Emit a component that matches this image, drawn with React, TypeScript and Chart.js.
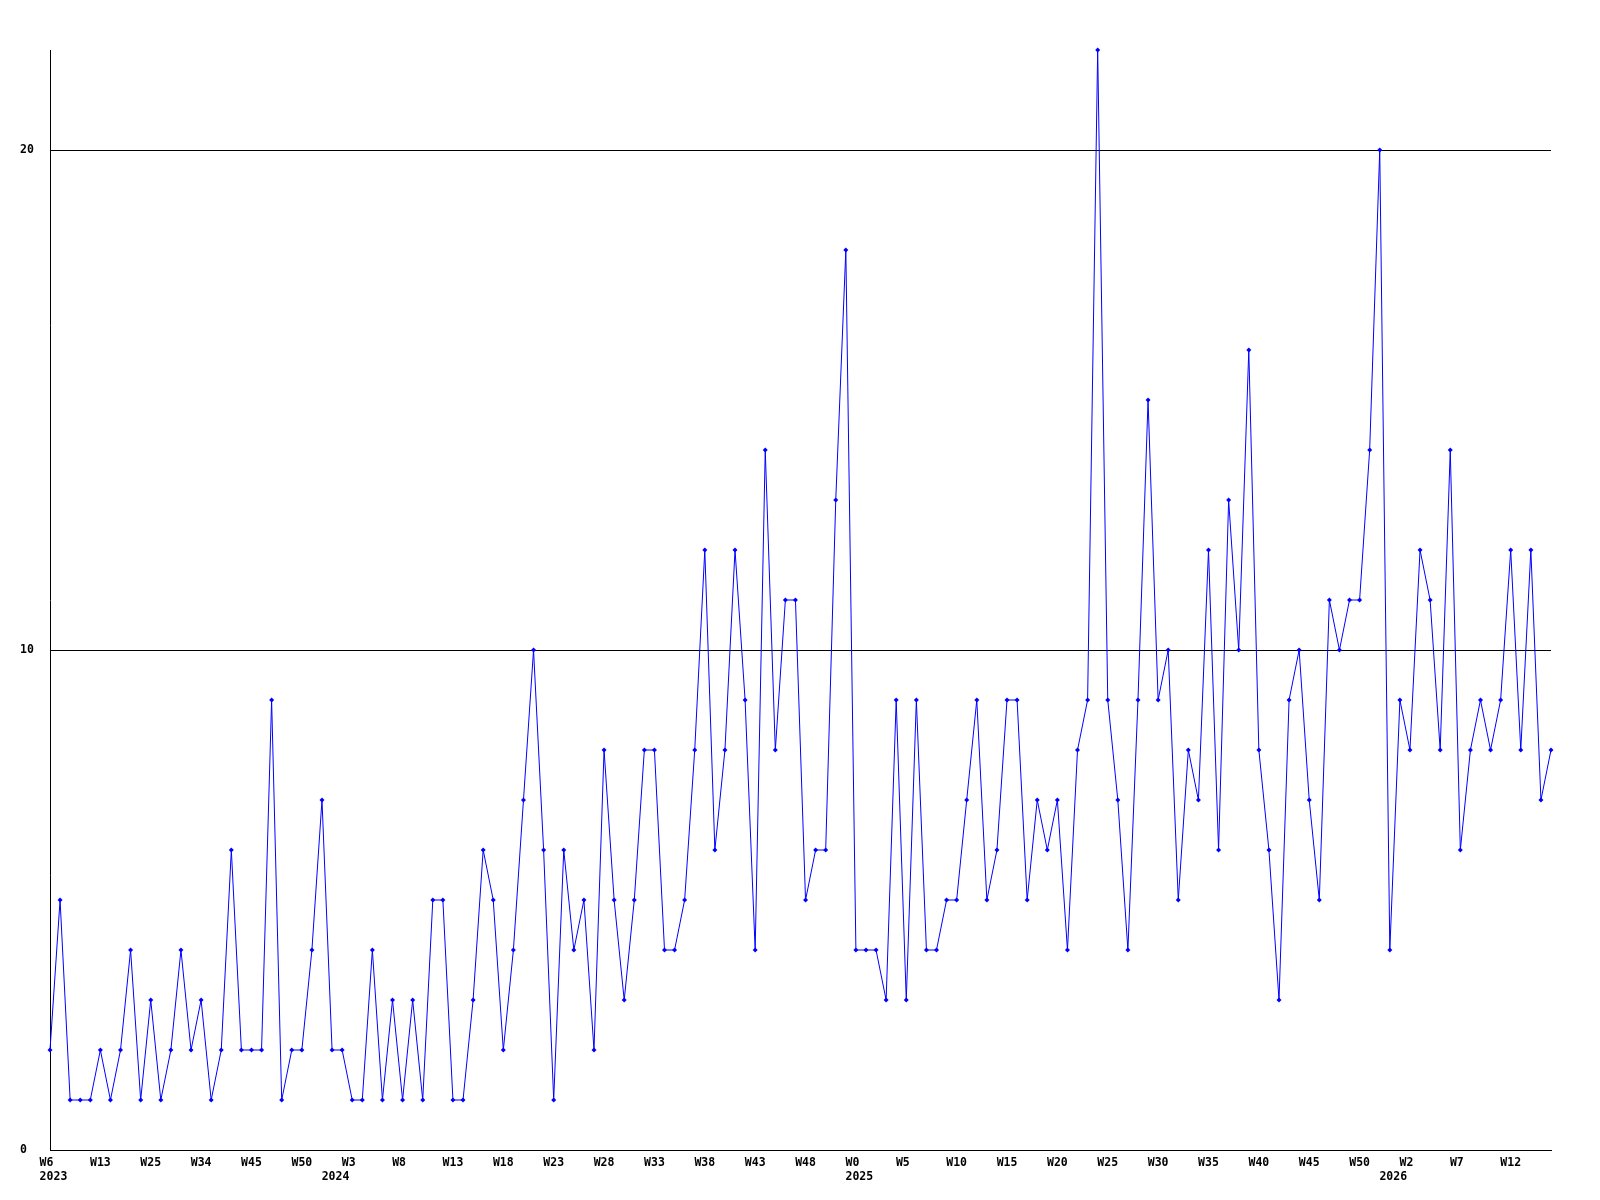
import React, { useEffect, useRef } from "react";
import { Chart, registerables } from "chart.js";

Chart.register(...registerables);

// ISO-style week numbers of each sample, per year
const weeks2023 = [6, 7, 8, 10, 12, 13, 15, 17, 19, 22, 25, 27, 29, 31, 32, 34, 36, 38, 40, 43, 45, 46, 47, 48, 49, 50, 51, 52];
const weeks2024 = [1, 2, 3, 4, 5, 6, 7, 8, 9, 10, 11, 12, 13, 14, 15, 16, 17, 18, 19, 20, 21, 22, 23, 24, 25, 26, 27, 28, 29, 30, 31, 32, 33, 34, 35, 36, 37, 38, 39, 40, 41, 42, 43, 44, 45, 46, 47, 48, 49, 50, 51, 52];
const weeks2025 = [0, 1, 2, 3, 4, 5, 6, 7, 8, 9, 10, 11, 12, 13, 14, 15, 16, 17, 18, 19, 20, 21, 22, 23, 24, 25, 26, 27, 28, 29, 30, 31, 32, 33, 34, 35, 36, 37, 38, 39, 40, 41, 42, 43, 44, 45, 46, 47, 48, 49, 50, 51, 52];
const weeks2026 = [0, 1, 2, 3, 4, 5, 6, 7, 8, 9, 10, 11, 12, 13, 14, 15, 16];

const counts = [
  2, 5, 1, 1, 1, 2, 1, 2, 4, 1,
  3, 1, 2, 4, 2, 3, 1, 2, 6, 2,
  2, 2, 9, 1, 2, 2, 4, 7, 2, 2,
  1, 1, 4, 1, 3, 1, 3, 1, 5, 5,
  1, 1, 3, 6, 5, 2, 4, 7, 10, 6,
  1, 6, 4, 5, 2, 8, 5, 3, 5, 8,
  8, 4, 4, 5, 8, 12, 6, 8, 12, 9,
  4, 14, 8, 11, 11, 5, 6, 6, 13, 18,
  4, 4, 4, 3, 9, 3, 9, 4, 4, 5,
  5, 7, 9, 5, 6, 9, 9, 5, 7, 6,
  7, 4, 8, 9, 22, 9, 7, 4, 9, 15,
  9, 10, 5, 8, 7, 12, 6, 13, 10, 16,
  8, 6, 3, 9, 10, 7, 5, 11, 10, 11,
  11, 14, 20, 4, 9, 8, 12, 11, 8, 14,
  6, 8, 9, 8, 9, 12, 8, 12, 7, 8,
];

const yTicks = [0, 10, 20];
const labelEvery = 5;

type WeekCat = { year: number; week: number };
const cats: WeekCat[] = [
  ...weeks2023.map((w) => ({ year: 2023, week: w })),
  ...weeks2024.map((w) => ({ year: 2024, week: w })),
  ...weeks2025.map((w) => ({ year: 2025, week: w })),
  ...weeks2026.map((w) => ({ year: 2026, week: w })),
];
const labels = cats.map((c) => `${c.year}-W${c.week}`);

const FONT = { family: "'DejaVu Sans Mono', monospace", size: 11.5, weight: "bold" as const };

// pad labels so that centred text starts ~10px left of the tick (like the original)
function padWeek(s: string) {
  return s.length < 3 ? s + " " : s;
}

export default function App() {
  const ref = useRef<HTMLCanvasElement | null>(null);
  useEffect(() => {
    if (!ref.current) return;
    const chart = new Chart(ref.current, {
      type: "line",
      data: {
        labels,
        datasets: [
          {
            data: counts,
            borderColor: "#0000ff",
            borderWidth: 1,
            pointStyle: "rectRot",
            pointRadius: 2.5,
            pointBackgroundColor: "#0000ff",
            pointBorderColor: "#0000ff",
            pointBorderWidth: 0,
            tension: 0,
            fill: false,
            clip: false as any,
          },
        ],
      },
      options: {
        animation: false,
        responsive: false,
        devicePixelRatio: 1,
        layout: { padding: { left: 20, right: 49, top: 50, bottom: 0 } },
        plugins: { legend: { display: false }, tooltip: { enabled: false }, title: { display: false } },
        scales: {
          x: {
            type: "category",
            offset: false,
            grid: { display: false, drawTicks: false },
            border: { display: true, color: "#000", width: 1 },
            afterFit: (s: any) => {
              s.height = 50;
            },
            ticks: {
              autoSkip: false,
              maxRotation: 0,
              minRotation: 0,
              padding: 6,
              color: "#000",
              font: FONT,
              callback: (_v: any, i: number) => {
                const c = cats[i];
                const newYear = i === 0 || cats[i - 1].year !== c.year;
                const wk = i % labelEvery === 0 ? padWeek("W" + c.week) : "";
                const yr = newYear ? " " + c.year : "";
                if (!wk && !yr) return "";
                return [wk, yr];
              },
            },
          },
          y: {
            type: "linear",
            min: 0,
            max: 22,
            grid: { color: "#000", lineWidth: 1, drawTicks: false },
            border: { display: true, color: "#000", width: 1 },
            afterFit: (s: any) => {
              s.width = 30;
            },
            afterBuildTicks: (s: any) => {
              s.ticks = yTicks.map((v) => ({ value: v }));
            },
            ticks: {
              includeBounds: false,
              crossAlign: "far",
              color: "#000",
              font: FONT,
              callback: (v: any) => String(v),
            },
          },
        },
      },
    });
    return () => chart.destroy();
  }, []);
  return (
    <div style={{ position: "absolute", left: 0, top: 0, width: 1600, height: 1200, background: "#fff" }}>
      <canvas ref={ref} width={1600} height={1200} style={{ display: "block", width: 1600, height: 1200 }} />
    </div>
  );
}
